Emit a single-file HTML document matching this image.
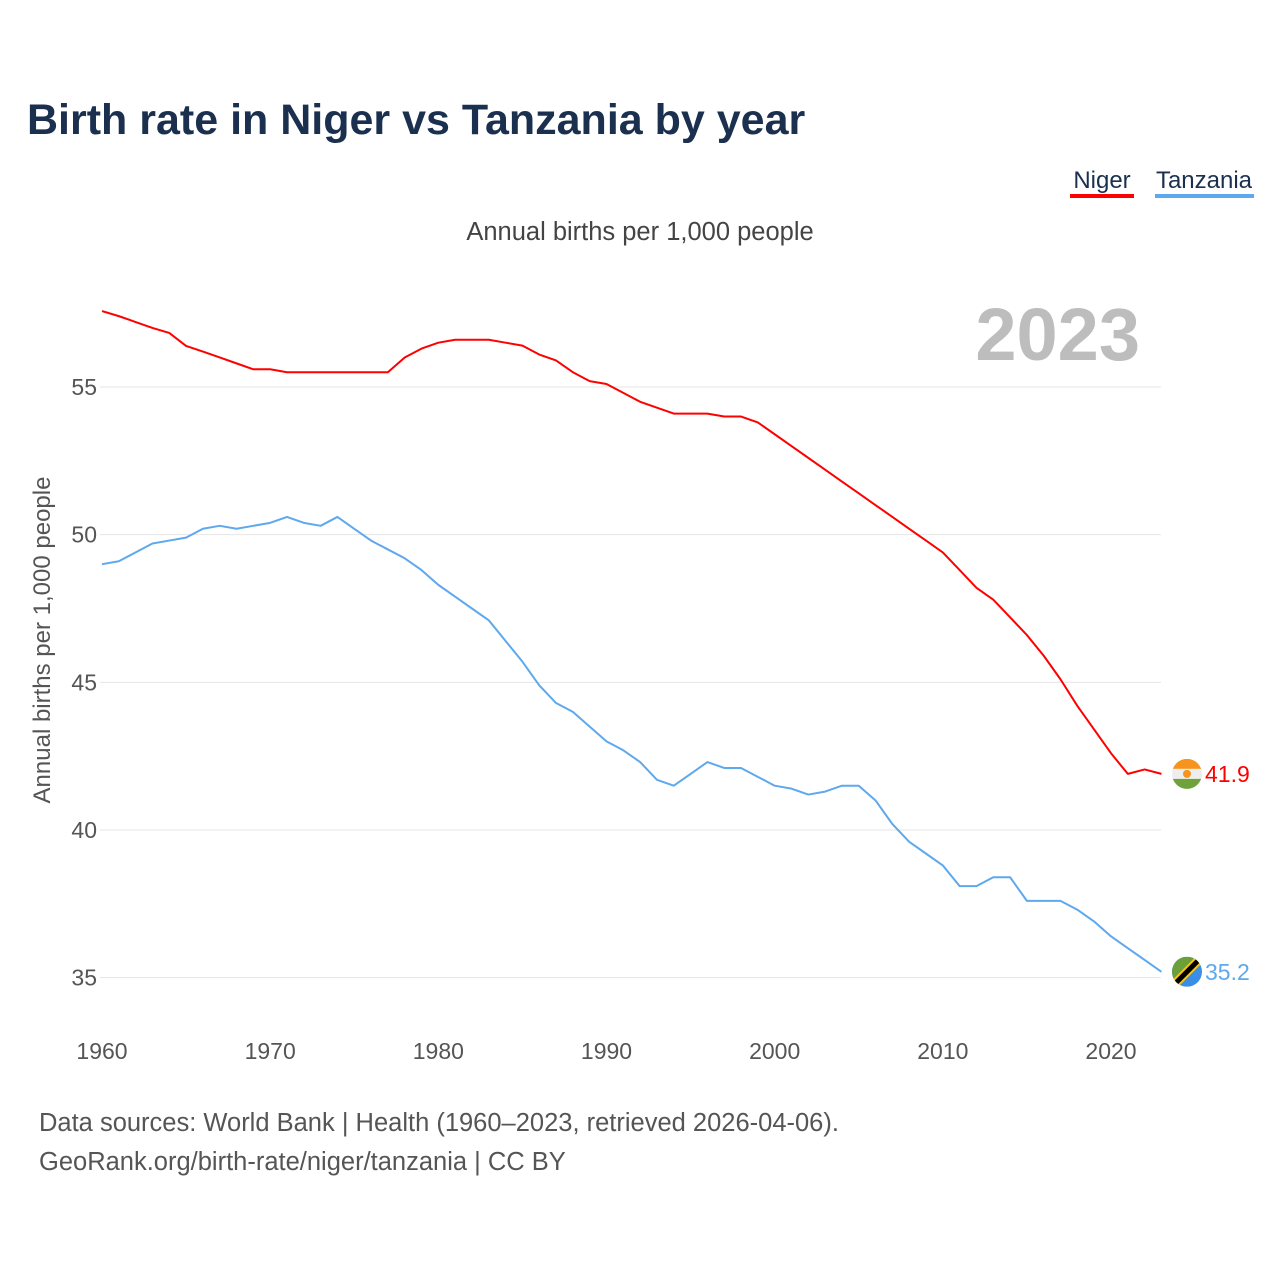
<!DOCTYPE html>
<html><head><meta charset="utf-8"><style>
body{margin:0;background:#fff;font-family:"Liberation Sans",sans-serif;}
</style></head><body>
<svg id="chart" width="1280" height="1280" xmlns="http://www.w3.org/2000/svg" style="display:block">
<text x="27" y="134" font-size="43" font-weight="bold" fill="#1b2f4e">Birth rate in Niger vs Tanzania by year</text>
<g><text x="1102" y="188" font-size="24" fill="#1b2f4e" text-anchor="middle">Niger</text><rect x="1070" y="194" width="64" height="4" fill="#ff0000"/></g>
<g><text x="1204" y="188" font-size="24" fill="#1b2f4e" text-anchor="middle">Tanzania</text><rect x="1155" y="194" width="99" height="4" fill="#5ea8ee"/></g>
<text x="640" y="240" font-size="25.5" fill="#444" text-anchor="middle">Annual births per 1,000 people</text>
<text x="1140" y="360" font-size="74" font-weight="bold" fill="#bdbdbd" text-anchor="end">2023</text>
<text transform="translate(50,640) rotate(-90)" font-size="24" fill="#555" text-anchor="middle">Annual births per 1,000 people</text>
<g id="grid"></g><g id="yt"></g><g id="xt"></g><g id="lines"></g>
<text x="39" y="1131" font-size="25.5" fill="#555">Data sources: World Bank | Health (1960–2023, retrieved 2026-04-06).</text>
<text x="39" y="1170" font-size="25.5" fill="#555">GeoRank.org/birth-rate/niger/tanzania | CC BY</text>
</svg>
<script>
const years=[];for(let y=1960;y<=2023;y++)years.push(y);
const niger=[57.57,57.4,57.2,57.0,56.83,56.39,56.2,56.0,55.8,55.6,55.6,55.5,55.5,55.5,55.5,55.5,55.5,55.5,56.0,56.3,56.5,56.6,56.6,56.6,56.5,56.4,56.1,55.9,55.5,55.2,55.1,54.8,54.5,54.3,54.1,54.1,54.1,54.0,54.0,53.8,53.4,53.0,52.6,52.2,51.8,51.4,51.0,50.6,50.2,49.8,49.4,48.8,48.2,47.8,47.2,46.6,45.9,45.1,44.2,43.4,42.6,41.9,42.05,41.9];
const tanzania=[49.0,49.1,49.4,49.7,49.8,49.9,50.2,50.3,50.2,50.3,50.4,50.6,50.4,50.3,50.6,50.2,49.8,49.5,49.2,48.8,48.3,47.9,47.5,47.1,46.4,45.7,44.9,44.3,44.0,43.5,43.0,42.7,42.3,41.7,41.5,41.9,42.3,42.1,42.1,41.8,41.5,41.4,41.2,41.3,41.5,41.5,41.0,40.2,39.6,39.2,38.8,38.1,38.1,38.4,38.4,37.6,37.6,37.6,37.3,36.9,36.4,36.0,35.6,35.2];
const yTicks=[35,40,45,50,55];
const xTicks=[1960,1970,1980,1990,2000,2010,2020];
const NS="http://www.w3.org/2000/svg";
const X=y=>102+(y-1960)*(1009/60);
const Y=v=>387+(55-v)*(443/15);
function mk(t,a,p){const e=document.createElementNS(NS,t);for(const k in a)e.setAttribute(k,a[k]);document.getElementById(p).appendChild(e);return e;}
yTicks.forEach(v=>{
 const l=mk('line',{x1:100,x2:1161,y1:Y(v),y2:Y(v),stroke:'#e6e6e6','stroke-width':1},'grid');
 
 
 const t=mk('text',{x:97,y:Y(v)+8,'font-size':23,fill:'#555','text-anchor':'end'},'yt');t.textContent=v;
 
 
});
xTicks.forEach(v=>{
 const t=mk('text',{x:X(v),y:1059,'font-size':23,fill:'#555','text-anchor':'middle'},'xt');t.textContent=v;
 
 
});
function series(d,c,name,flag){
 const p=mk('polyline',{points:d.map((v,i)=>X(years[i])+','+Y(v)).join(' '),fill:'none',stroke:c,'stroke-width':2,'stroke-linejoin':'round'},'lines');
 
 
 const last=d[d.length-1],cx=1187,cy=Y(last);
 const g=mk('g',{},'lines');
 
 
 const r=15;
 if(flag==='ne'){
  g.innerHTML=`<clipPath id="cne"><circle cx="${cx}" cy="${cy}" r="${r}"/></clipPath><g clip-path="url(#cne)"><rect x="${cx-r}" y="${cy-r}" width="${2*r}" height="10" fill="#f7941d"/><rect x="${cx-r}" y="${cy-5}" width="${2*r}" height="10" fill="#eee"/><rect x="${cx-r}" y="${cy+5}" width="${2*r}" height="11" fill="#70a23c"/><circle cx="${cx}" cy="${cy}" r="4" fill="#f7941d"/></g>`;
 }else{
  g.innerHTML=`<clipPath id="ctz"><circle cx="${cx}" cy="${cy}" r="${r}"/></clipPath><g clip-path="url(#ctz)"><rect x="${cx-r}" y="${cy-r}" width="${2*r}" height="${2*r}" fill="#3a8ee8"/><polygon points="${cx-r},${cy-r} ${cx+r},${cy-r} ${cx-r},${cy+r}" fill="#6a9f3a"/><line x1="${cx-17}" y1="${cy+17}" x2="${cx+17}" y2="${cy-17}" stroke="#f5c518" stroke-width="9"/><line x1="${cx-17}" y1="${cy+17}" x2="${cx+17}" y2="${cy-17}" stroke="#000" stroke-width="5"/></g>`;
 }
 const t=mk('text',{x:1205,y:cy+8,'font-size':23,fill:c},'lines');t.textContent=last.toFixed(1);
 
 
}
series(niger,'#ff0000','niger','ne');
series(tanzania,'#5ea8ee','tanzania','tz');
</script>
</body></html>
